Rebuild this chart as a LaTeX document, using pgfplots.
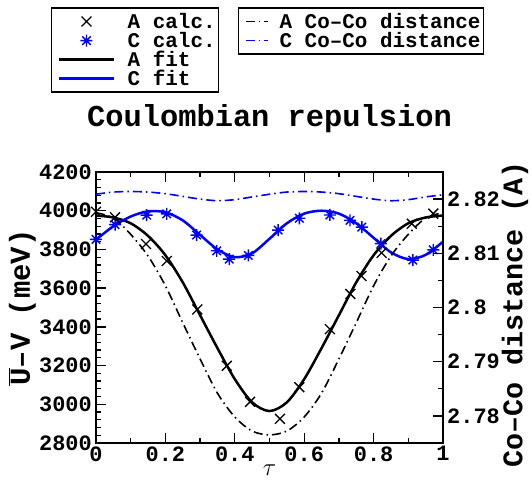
\documentclass[border=0pt]{standalone}
\usepackage{pgfplots}
\pgfplotsset{compat=1.18}
\usepackage{fontspec}
\setmainfont{Liberation Mono}
\newcommand\bsize[1]{\fontsize{#1}{#1}\selectfont\bfseries}
\pgfdeclareplotmark{ast8}{%
  \pgfpathmoveto{\pgfqpoint{0pt}{\pgfplotmarksize}}\pgfpathlineto{\pgfqpoint{0pt}{-\pgfplotmarksize}}%
  \pgfpathmoveto{\pgfqpoint{\pgfplotmarksize}{0pt}}\pgfpathlineto{\pgfqpoint{-\pgfplotmarksize}{0pt}}%
  \pgfpathmoveto{\pgfqpoint{.7071\pgfplotmarksize}{.7071\pgfplotmarksize}}\pgfpathlineto{\pgfqpoint{-.7071\pgfplotmarksize}{-.7071\pgfplotmarksize}}%
  \pgfpathmoveto{\pgfqpoint{.7071\pgfplotmarksize}{-.7071\pgfplotmarksize}}\pgfpathlineto{\pgfqpoint{-.7071\pgfplotmarksize}{.7071\pgfplotmarksize}}%
  \pgfusepathqstroke}
\pgfplotsset{
  common/.style={
    scale only axis, width=347bp, height=271bp,
    xmin=0, xmax=1,
    tick align=inside,
    axis line style={line width=2bp},
    every tick/.style={line width=1.3bp, black},
    major tick length=10bp, minor tick length=5bp,
    tick label style={font=\bsize{22}},
    yticklabel style={inner xsep=4bp},
    /pgf/number format/assume math mode=true,
    /pgf/number format/1000 sep={},
    legend cell align={left},
  }
}
\begin{document}
\begin{tikzpicture}
\path[use as bounding box] (-96bp,-42bp) rectangle (435bp,443bp);
\begin{axis}[common,
  ymin=2800, ymax=4200,
  xtick={0,0.2,0.4,0.6,0.8,1}, minor x tick num=1,
  ytick={2800,3000,3200,3400,3600,3800,4000,4200}, minor y tick num=4,
  ytick pos=left,
  xlabel={$\tau$},
  xlabel style={font=\fontsize{26}{26}\selectfont, at={(axis description cs:0.5,-0.0996)}, anchor=center},
  ylabel={$\overline{\hbox{U}}$–V (meV)},
  ylabel style={font=\bsize{29}, at={(axis description cs:-0.212,0.5)}, anchor=center},
  title={Coulombian repulsion},
  title style={font=\bsize{30.5}, at={(axis description cs:0.5,1.173)}, anchor=center},
  legend style={at={(axis description cs:-0.1297,1.6077)}, anchor=north west,
    draw=black, line width=1.5bp,
    inner xsep=3bp, inner ysep=4bp, row sep=0pt, column sep=0bp,
    nodes={inner sep=0bp, text height=16bp, text depth=3bp}},
  legend image code/.code={\path (-3.5bp,0bp) (67bp,0bp);\draw[mark repeat=2,mark phase=2,#1] plot coordinates {(0bp,0bp) (27bp,0bp) (54bp,0bp)};},
]
\addplot[only marks, black, mark=x, mark size=7bp, mark options={line width=1.3bp}] coordinates {
(0,3995) (0.055,3966) (0.144,3828) (0.204,3740) (0.292,3490) (0.377,3199) (0.444,3013)
(0.530,2925) (0.586,3088) (0.674,3388) (0.733,3570) (0.765,3663) (0.823,3782) (0.910,3933) (0.972,3985)};
\addlegendentry{\bsize{21}A calc.}
\addplot[only marks, blue, mark=ast8, mark size=6bp, mark options={line width=1.4bp}] coordinates {
(0,3852) (0.055,3928) (0.146,3977) (0.204,3984) (0.290,3874) (0.348,3793) (0.384,3750) (0.439,3769)
(0.525,3900) (0.586,3961) (0.674,3978) (0.732,3950) (0.766,3915) (0.821,3830) (0.913,3745) (0.972,3798)};
\addlegendentry{\bsize{21}C calc.}
\addplot[black, line width=2.5bp, smooth] coordinates {
(0,3975) (0.05,3965) (0.1,3935) (0.15,3870) (0.2,3770) (0.25,3630) (0.3,3460) (0.35,3290)
(0.4,3130) (0.45,3010) (0.5,2965) (0.55,3010) (0.6,3130) (0.65,3290) (0.7,3460) (0.75,3630)
(0.8,3770) (0.85,3870) (0.9,3935) (0.95,3965) (1,3975)};
\addlegendentry{\bsize{21}A fit}
\addplot[blue, line width=2.5bp, smooth] coordinates {
(0,3850) (0.05,3920) (0.1,3970) (0.15,3997) (0.2,3992) (0.25,3950) (0.3,3875) (0.35,3800)
(0.4,3760) (0.45,3780) (0.5,3855) (0.55,3935) (0.6,3985) (0.65,4000) (0.7,3985) (0.75,3935)
(0.8,3860) (0.85,3785) (0.9,3750) (0.95,3772) (1,3840)};
\addlegendentry{\bsize{21}C fit}
\end{axis}
\begin{axis}[common,
  ymin=2.775, ymax=2.825,
  hide x axis, axis y line*=right,
  ytick={2.78,2.79,2.8,2.81,2.82}, minor y tick num=1,
  ylabel={Co–Co distance (A)},
  ylabel style={font=\bsize{28.5}, at={(axis description cs:1.2075,0.474)}, anchor=center},
  legend style={at={(axis description cs:0.4092,1.6077)}, anchor=north west,
    draw=black, line width=1.5bp,
    inner xsep=3bp, inner ysep=4bp, row sep=0pt, column sep=0bp,
    nodes={inner sep=0bp, text height=16bp, text depth=3bp}},
  legend image code/.code={\path (-3.25bp,0bp) (33bp,0bp);\draw[#1] (0bp,0bp) -- (22bp,0bp);},
]
\addplot[black, line width=1.6bp, dash pattern=on 9bp off 4bp on 1.5bp off 4bp, smooth] coordinates {
(0,2.8175) (0.05,2.8165) (0.1,2.8135) (0.15,2.8095) (0.2,2.8040) (0.25,2.7972) (0.3,2.7905)
(0.35,2.7842) (0.4,2.7798) (0.45,2.7772) (0.5,2.7765) (0.55,2.7772) (0.6,2.7798) (0.65,2.7842)
(0.7,2.7905) (0.75,2.7972) (0.8,2.8040) (0.85,2.8095) (0.9,2.8135) (0.95,2.8165) (1,2.8175)};
\addlegendentry{\bsize{21}A Co–Co distance}
\addplot[blue, line width=1.6bp, dash pattern=on 9bp off 4bp on 1.5bp off 4bp, smooth] coordinates {
(0,2.8209) (0.05,2.8213) (0.1,2.8214) (0.15,2.8213) (0.2,2.8210) (0.25,2.8205) (0.3,2.8200)
(0.35,2.8197) (0.4,2.8199) (0.45,2.8204) (0.5,2.8209) (0.55,2.8213) (0.6,2.8214) (0.65,2.8213)
(0.7,2.8210) (0.75,2.8205) (0.8,2.8200) (0.85,2.8197) (0.9,2.8199) (0.95,2.8204) (1,2.8208)};
\addlegendentry{\bsize{21}C Co–Co distance}
\end{axis}
\end{tikzpicture}
\end{document}
